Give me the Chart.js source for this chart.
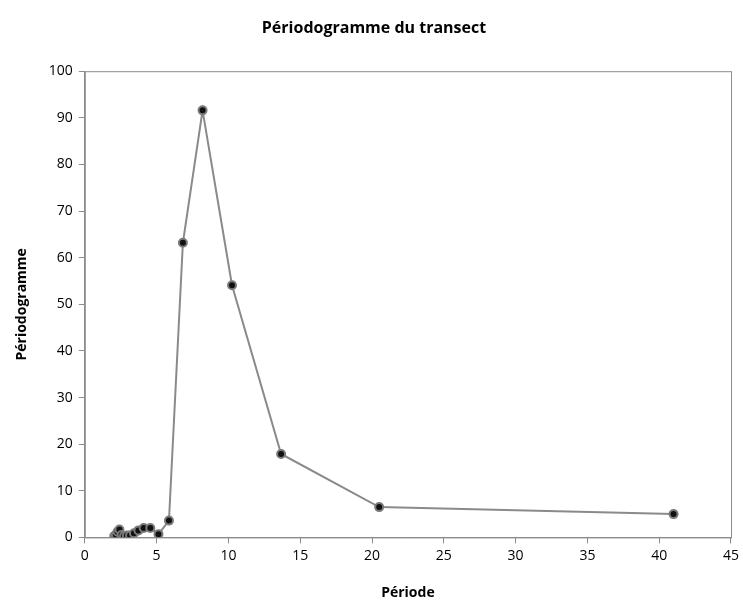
<!DOCTYPE html>
<html>
<head>
<meta charset="utf-8">
<script src="https://cdn.jsdelivr.net/npm/chart.js@4/dist/chart.umd.min.js"></script>
<style>
  html, body { margin: 0; padding: 0; background: #fff; }
  #wrap { width: 743px; height: 601px; }
</style>
</head>
<body>
<div id="wrap"><canvas id="chart"></canvas></div>
<script>
// periods
const periods = [2.05, 2.16, 2.28, 2.41, 2.56, 2.73, 2.93, 3.15, 3.42, 3.73, 4.1, 4.56, 5.13, 5.86, 6.83, 8.2, 10.25, 13.67, 20.5, 41];
// periodogram values
const values = [0.3, 0.5, 1.2, 1.7, 0.5, 0.3, 0.4, 0.4, 0.9, 1.5, 2.0, 2.0, 0.7, 3.6, 63.2, 91.6, 54.1, 17.9, 6.5, 5.0];

const xTicks = [0, 5, 10, 15, 20, 25, 30, 35, 40, 45];
const yTicks = [0, 10, 20, 30, 40, 50, 60, 70, 80, 90, 100];

const axisGray = "#8c8c8c";
const fontFam = "'Open Sans', 'Liberation Sans', sans-serif";

// plot area frame (top + right sides)
const frame = {
  id: "frame",
  afterDraw(chart) {
    const a = chart.chartArea;
    const c = chart.ctx;
    c.save();
    c.strokeStyle = axisGray;
    c.lineWidth = 1;
    c.strokeRect(a.left + 0.5, a.top + 0.5, a.right - a.left, a.bottom - a.top);
    c.restore();
  }
};

const points = periods.map((p, i) => ({ x: p, y: values[i] }));

new Chart(document.getElementById("chart"), {
  type: "line",
  data: {
    datasets: [{
      data: points,
      borderColor: "#8a8a8a",
      borderWidth: 2,
      pointRadius: 4,
      pointBackgroundColor: "#111",
      pointBorderColor: "#7a7a7a",
      pointBorderWidth: 2,
      tension: 0
    }]
  },
  options: {
    responsive: true,
    maintainAspectRatio: false,
    animation: false,
    layout: { padding: { left: 10, right: 5, top: 11, bottom: 0 } },
    plugins: {
      legend: { display: false },
      tooltip: { enabled: false },
      title: {
        display: true,
        text: "Périodogramme du transect",
        color: "#000",
        font: { family: fontFam, size: 16, weight: "bold" },
        padding: { top: 8, bottom: 33 }
      }
    },
    scales: {
      x: {
        type: "linear",
        min: 0,
        max: 45,
        afterBuildTicks: s => { s.ticks = xTicks.map(v => ({ value: v })); },
        grid: { drawOnChartArea: false, color: axisGray, tickLength: 6 },
        border: { color: axisGray },
        ticks: { color: "#000", font: { family: fontFam, size: 14 }, padding: 4, maxRotation: 0 },
        title: {
          display: true,
          text: "Période",
          color: "#000",
          font: { family: fontFam, size: 14, weight: "bold" },
          padding: { top: 16, bottom: 0 }
        }
      },
      y: {
        min: 0,
        max: 100,
        afterBuildTicks: s => { s.ticks = yTicks.map(v => ({ value: v })); },
        grid: { drawOnChartArea: false, color: axisGray, tickLength: 6 },
        border: { color: axisGray },
        ticks: { color: "#000", font: { family: fontFam, size: 14 }, padding: 6 },
        title: {
          display: true,
          text: "Périodogramme",
          color: "#000",
          font: { family: fontFam, size: 14, weight: "bold" },
          padding: { bottom: 12 }
        }
      }
    }
  },
  plugins: [frame]
});
</script>
</body>
</html>
